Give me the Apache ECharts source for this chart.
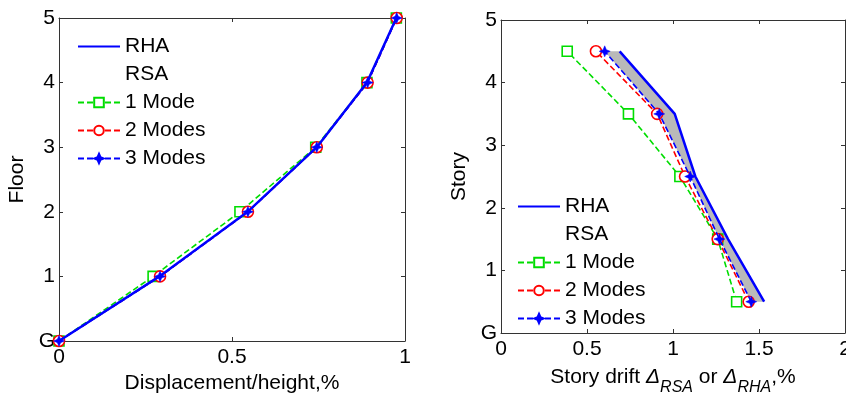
<!DOCTYPE html>
<html>
<head>
<meta charset="utf-8">
<script src="https://cdn.jsdelivr.net/npm/echarts@6/dist/echarts.min.js"></script>
<style>
  html, body { margin: 0; padding: 0; background: #fff; }
  #chart { width: 846px; height: 394px; }
</style>
</head>
<body>
<div id="chart"></div>
<script>
// Floor displacement profile (left panel)
const floors = [0, 1, 2, 3, 4, 5];
const dispRHA = [0, 0.29, 0.545, 0.745, 0.89, 0.975];
const disp1Mode = [0, 0.272, 0.523, 0.742, 0.89, 0.975];
const disp2Modes = [0, 0.292, 0.546, 0.745, 0.892, 0.976];
const disp3Modes = [0, 0.292, 0.546, 0.745, 0.892, 0.976];

// Story drift profile (right panel)
const stories = [0.5, 1.5, 2.5, 3.5, 4.5];
const driftRHA = [1.53, 1.32, 1.13, 1.01, 0.69];
const drift1Mode = [1.37, 1.26, 1.04, 0.741, 0.385];
const drift2Modes = [1.44, 1.26, 1.07, 0.908, 0.552];
const drift3Modes = [1.455, 1.27, 1.10, 0.92, 0.603];

const yTickLabels = ['G', '1', '2', '3', '4', '5'];
const legendNames = ['RHA', 'RSA', '1 Mode', '2 Modes', '3 Modes'];

const FONT = 'Liberation Sans, Arial, sans-serif';
const BLUE = '#0000ff', GREEN = '#00dd00', RED = '#ff0000';
const STAR = 'path://M0,-10L3,-3L10,0L3,3L0,10L-3,3L-10,0L-3,-3Z';

const pairs = (xs, ys) => xs.map((x, i) => [x, ys[i]]);

function mainX(gridIndex, max, interval, name, gap) {
  return {
    type: 'value', gridIndex, min: 0, max, interval, position: 'bottom',
    name, nameLocation: 'middle', nameGap: gap,
    nameTextStyle: { fontFamily: FONT, fontSize: 21, color: '#000', rich: {
      i: { fontFamily: FONT, fontSize: 21, fontStyle: 'italic', color: '#000' },
      sub: { fontFamily: FONT, fontSize: 16, fontStyle: 'italic', color: '#000', padding: [22, 0, 0, 0] }
    } },
    axisLine: { show: true, onZero: false, lineStyle: { color: '#333', width: 1 } },
    axisTick: { show: true, inside: true, length: 4, lineStyle: { color: '#333' } },
    axisLabel: { fontFamily: FONT, fontSize: 21, color: '#000', margin: 6,
      formatter: v => String(v) },
    splitLine: { show: false }
  };
}
function boxX(gridIndex, max, interval) {
  return {
    type: 'value', gridIndex, min: 0, max, interval, position: 'top',
    axisLine: { show: true, onZero: false, lineStyle: { color: '#333', width: 1 } },
    axisTick: { show: true, inside: true, length: 4, lineStyle: { color: '#333' } },
    axisLabel: { show: false }, splitLine: { show: false }
  };
}
function mainY(gridIndex, name) {
  return {
    type: 'value', gridIndex, min: 0, max: 5, interval: 1, position: 'left',
    name, nameLocation: 'middle', nameGap: 31, nameRotate: 90,
    nameTextStyle: { fontFamily: FONT, fontSize: 21, color: '#000' },
    axisLine: { show: true, onZero: false, lineStyle: { color: '#333', width: 1 } },
    axisTick: { show: true, inside: true, length: 4, lineStyle: { color: '#333' } },
    axisLabel: { fontFamily: FONT, fontSize: 21, color: '#000', margin: 4,
      formatter: v => yTickLabels[Math.round(v)] },
    splitLine: { show: false }
  };
}
function boxY(gridIndex) {
  return {
    type: 'value', gridIndex, min: 0, max: 5, interval: 1, position: 'right',
    axisLine: { show: true, onZero: false, lineStyle: { color: '#333', width: 1 } },
    axisTick: { show: true, inside: true, length: 4, lineStyle: { color: '#333' } },
    axisLabel: { show: false }, splitLine: { show: false }
  };
}

function lineSeries(name, data, ax, style) {
  return Object.assign({
    name, type: 'line', data, xAxisIndex: ax, yAxisIndex: ax,
    animation: false, showSymbol: true
  }, style);
}
const styleRHA = { symbol: 'none', lineStyle: { color: BLUE, width: 2.5, type: 'solid' }, itemStyle: { color: BLUE }, z: 6 };
const style1 = { symbol: 'rect', symbolSize: 10, lineStyle: { color: GREEN, width: 1.6, type: [6, 3] },
  itemStyle: { color: '#fff', borderColor: GREEN, borderWidth: 1.6 }, z: 3 };
const style2 = { symbol: 'circle', symbolSize: 11, lineStyle: { color: RED, width: 1.6, type: [6, 3] },
  itemStyle: { color: '#fff', borderColor: RED, borderWidth: 1.6 }, z: 4 };
const style3 = { symbol: STAR, symbolSize: 11, lineStyle: { color: BLUE, width: 1.6, type: [6, 3] },
  itemStyle: { color: BLUE, borderColor: BLUE, borderWidth: 0.5 }, z: 5 };

function legendAt(left, top) {
  return {
    left, top, orient: 'vertical', itemWidth: 42, itemHeight: 12, itemGap: 7,
    selectedMode: false,
    textStyle: { fontFamily: FONT, fontSize: 21, color: '#000', lineHeight: 21 },
    data: legendNames.map(n => {
      if (n === 'RSA') return { name: n, icon: 'rect', itemStyle: { opacity: 0 }, lineStyle: { opacity: 0 } };
      if (n === 'RHA') return { name: n, itemStyle: { opacity: 0 } };
      return { name: n };
    })
  };
}

const option = {
  backgroundColor: '#fff',
  animation: false,
  grid: [
    { left: 59, top: 18, width: 346, height: 323, outerBoundsMode: 'none' },
    { left: 501, top: 20, width: 344, height: 313, outerBoundsMode: 'none' }
  ],
  legend: [legendAt(72, 31), legendAt(512, 191)],
  xAxis: [
    mainX(0, 1, 0.5, 'Displacement/height,%', 30),
    mainX(1, 2, 0.5, 'Story drift {i|Δ}{sub|RSA} or {i|Δ}{sub|RHA},%', 25),
    boxX(0, 1, 0.5),
    boxX(1, 2, 0.5)
  ],
  yAxis: [
    mainY(0, 'Floor'),
    mainY(1, 'Story'),
    boxY(0),
    boxY(1)
  ],
  series: [
    // shaded band between the RHA envelope and the 3-mode RSA estimate
    {
      type: 'custom', xAxisIndex: 1, yAxisIndex: 1, silent: true, z: 1,
      data: [[0, 0]],
      renderItem: (params, api) => {
        const pts = pairs(driftRHA, stories)
          .concat(pairs(drift3Modes, stories).reverse())
          .map(p => api.coord(p));
        return { type: 'polygon', shape: { points: pts },
          style: { fill: '#b9b9b9', stroke: 'none' } };
      }
    },
    lineSeries('1 Mode', pairs(disp1Mode, floors), 0, style1),
    lineSeries('2 Modes', pairs(disp2Modes, floors), 0, style2),
    lineSeries('3 Modes', pairs(disp3Modes, floors), 0, style3),
    lineSeries('RHA', pairs(dispRHA, floors), 0, styleRHA),
    lineSeries('RSA', [], 0, { symbol: 'none', lineStyle: { opacity: 0 } }),
    lineSeries('1 Mode', pairs(drift1Mode, stories), 1, style1),
    lineSeries('2 Modes', pairs(drift2Modes, stories), 1, style2),
    lineSeries('3 Modes', pairs(drift3Modes, stories), 1, style3),
    lineSeries('RHA', pairs(driftRHA, stories), 1, styleRHA)
  ]
};

const chart = echarts.init(document.getElementById('chart'), null, { renderer: 'canvas' });
chart.setOption(option);
</script>
</body>
</html>
